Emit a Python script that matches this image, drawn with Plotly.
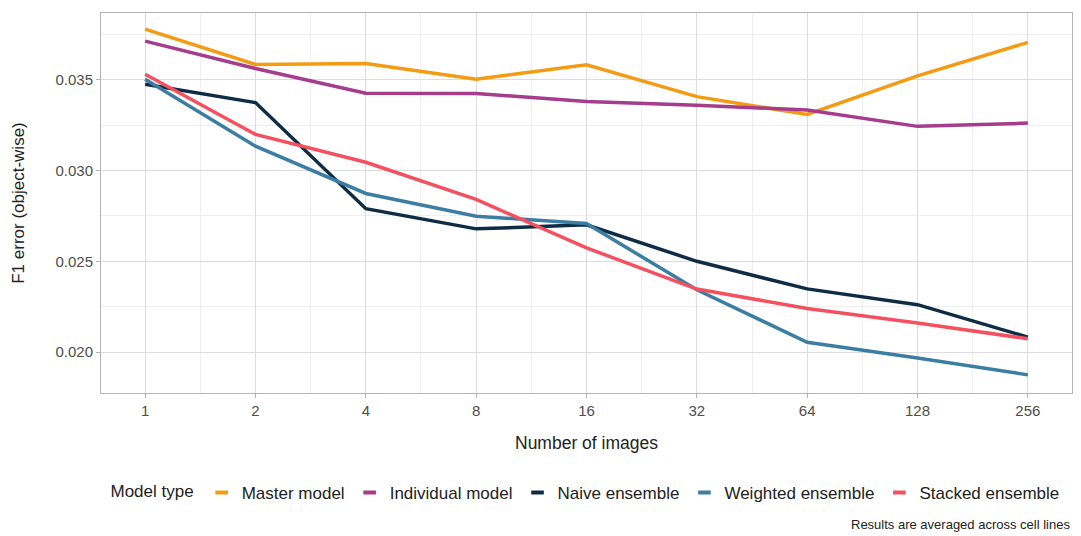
import plotly.graph_objects as go

n_images = [1, 2, 4, 8, 16, 32, 64, 128, 256]
tick_labels = ["1", "2", "4", "8", "16", "32", "64", "128", "256"]

master_model = [0.0378, 0.03585, 0.0359, 0.03504, 0.03583, 0.03408, 0.0331, 0.03522, 0.03707]
individual_model = [0.03714, 0.03563, 0.03427, 0.03425, 0.03381, 0.0336, 0.03334, 0.03244, 0.03262]
naive_ensemble = [0.03476, 0.03375, 0.0279, 0.02679, 0.02701, 0.0250, 0.02348, 0.02261, 0.02082]
weighted_ensemble = [0.03504, 0.03135, 0.02874, 0.02749, 0.02708, 0.02343, 0.02054, 0.01967, 0.01874]
stacked_ensemble = [0.03531, 0.0320, 0.03046, 0.02841, 0.02574, 0.02347, 0.0224, 0.0216, 0.02073]

series_names = ["Master model", "Individual model", "Naive ensemble", "Weighted ensemble", "Stacked ensemble"]
series_values = [master_model, individual_model, naive_ensemble, weighted_ensemble, stacked_ensemble]
series_colors = ["#F39B12", "#A53C8C", "#0E2D44", "#3B7DA3", "#F5505F"]

fig = go.Figure()
for name, vals, col in zip(series_names, series_values, series_colors):
    fig.add_trace(go.Scatter(x=n_images, y=vals, mode="lines", name=name,
                             line=dict(color=col, width=3.5), showlegend=False))
for name, col in zip(series_names, series_colors):
    fig.add_trace(go.Scatter(x=[None], y=[None], mode="markers", name=name,
                             marker=dict(symbol="line-ew-open", size=9, color=col,
                                         line=dict(width=4, color=col))))

minor_x = [v * 2 ** 0.5 for v in n_images[:-1]]

fig.update_layout(
    width=1081, height=536,
    margin=dict(l=101, r=9, t=13, b=143),
    plot_bgcolor="white", paper_bgcolor="white",
    font=dict(family="Liberation Sans, Arial, sans-serif", color="#222222"),
    xaxis=dict(
        type="log", range=[-0.4 * 0.30103, 8.4 * 0.30103],
        tickvals=n_images, ticktext=tick_labels,
        showgrid=True, gridcolor="#dcdcdc", gridwidth=1,
        minor=dict(tickvals=minor_x, showgrid=True, gridcolor="#eeeeee", gridwidth=1, ticklen=0),
        ticks="outside", ticklen=4, tickcolor="#b3b3b3",
        tickfont=dict(size=15, color="#4d4d4d"),
        showline=True, linecolor="#b3b3b3", linewidth=1, mirror=True,
        zeroline=False,
        title=dict(text="Number of images", font=dict(size=17.5, color="#222222"), standoff=18),
    ),
    yaxis=dict(
        range=[0.01774, 0.03869],
        tickvals=[0.020, 0.025, 0.030, 0.035],
        ticktext=["0.020", "0.025", "0.030", "0.035"],
        showgrid=True, gridcolor="#dcdcdc", gridwidth=1,
        minor=dict(dtick=0.0025, tick0=0.0, showgrid=True, gridcolor="#eeeeee", gridwidth=1, ticklen=0),
        ticks="outside", ticklen=4, tickcolor="#b3b3b3",
        tickfont=dict(size=15, color="#4d4d4d"),
        showline=True, linecolor="#b3b3b3", linewidth=1, mirror=True,
        zeroline=False,
        title=dict(text="F1 error (object-wise)", font=dict(size=17, color="#222222"), standoff=26),
    ),
    legend=dict(
        orientation="h", x=0.5, xanchor="center", y=-0.263, yanchor="middle",
        title=dict(text="Model type", side="left", font=dict(size=17, color="#222222")),
        font=dict(size=17, color="#222222"),
        itemwidth=30, tracegroupgap=0,
    ),
    annotations=[dict(
        text="Results are averaged across cell lines", x=1, xref="paper",
        y=-0.347, yref="paper", xanchor="right", yanchor="middle",
        showarrow=False, font=dict(size=13, color="#222222"),
    )],
)

fig.write_html("out.html")
